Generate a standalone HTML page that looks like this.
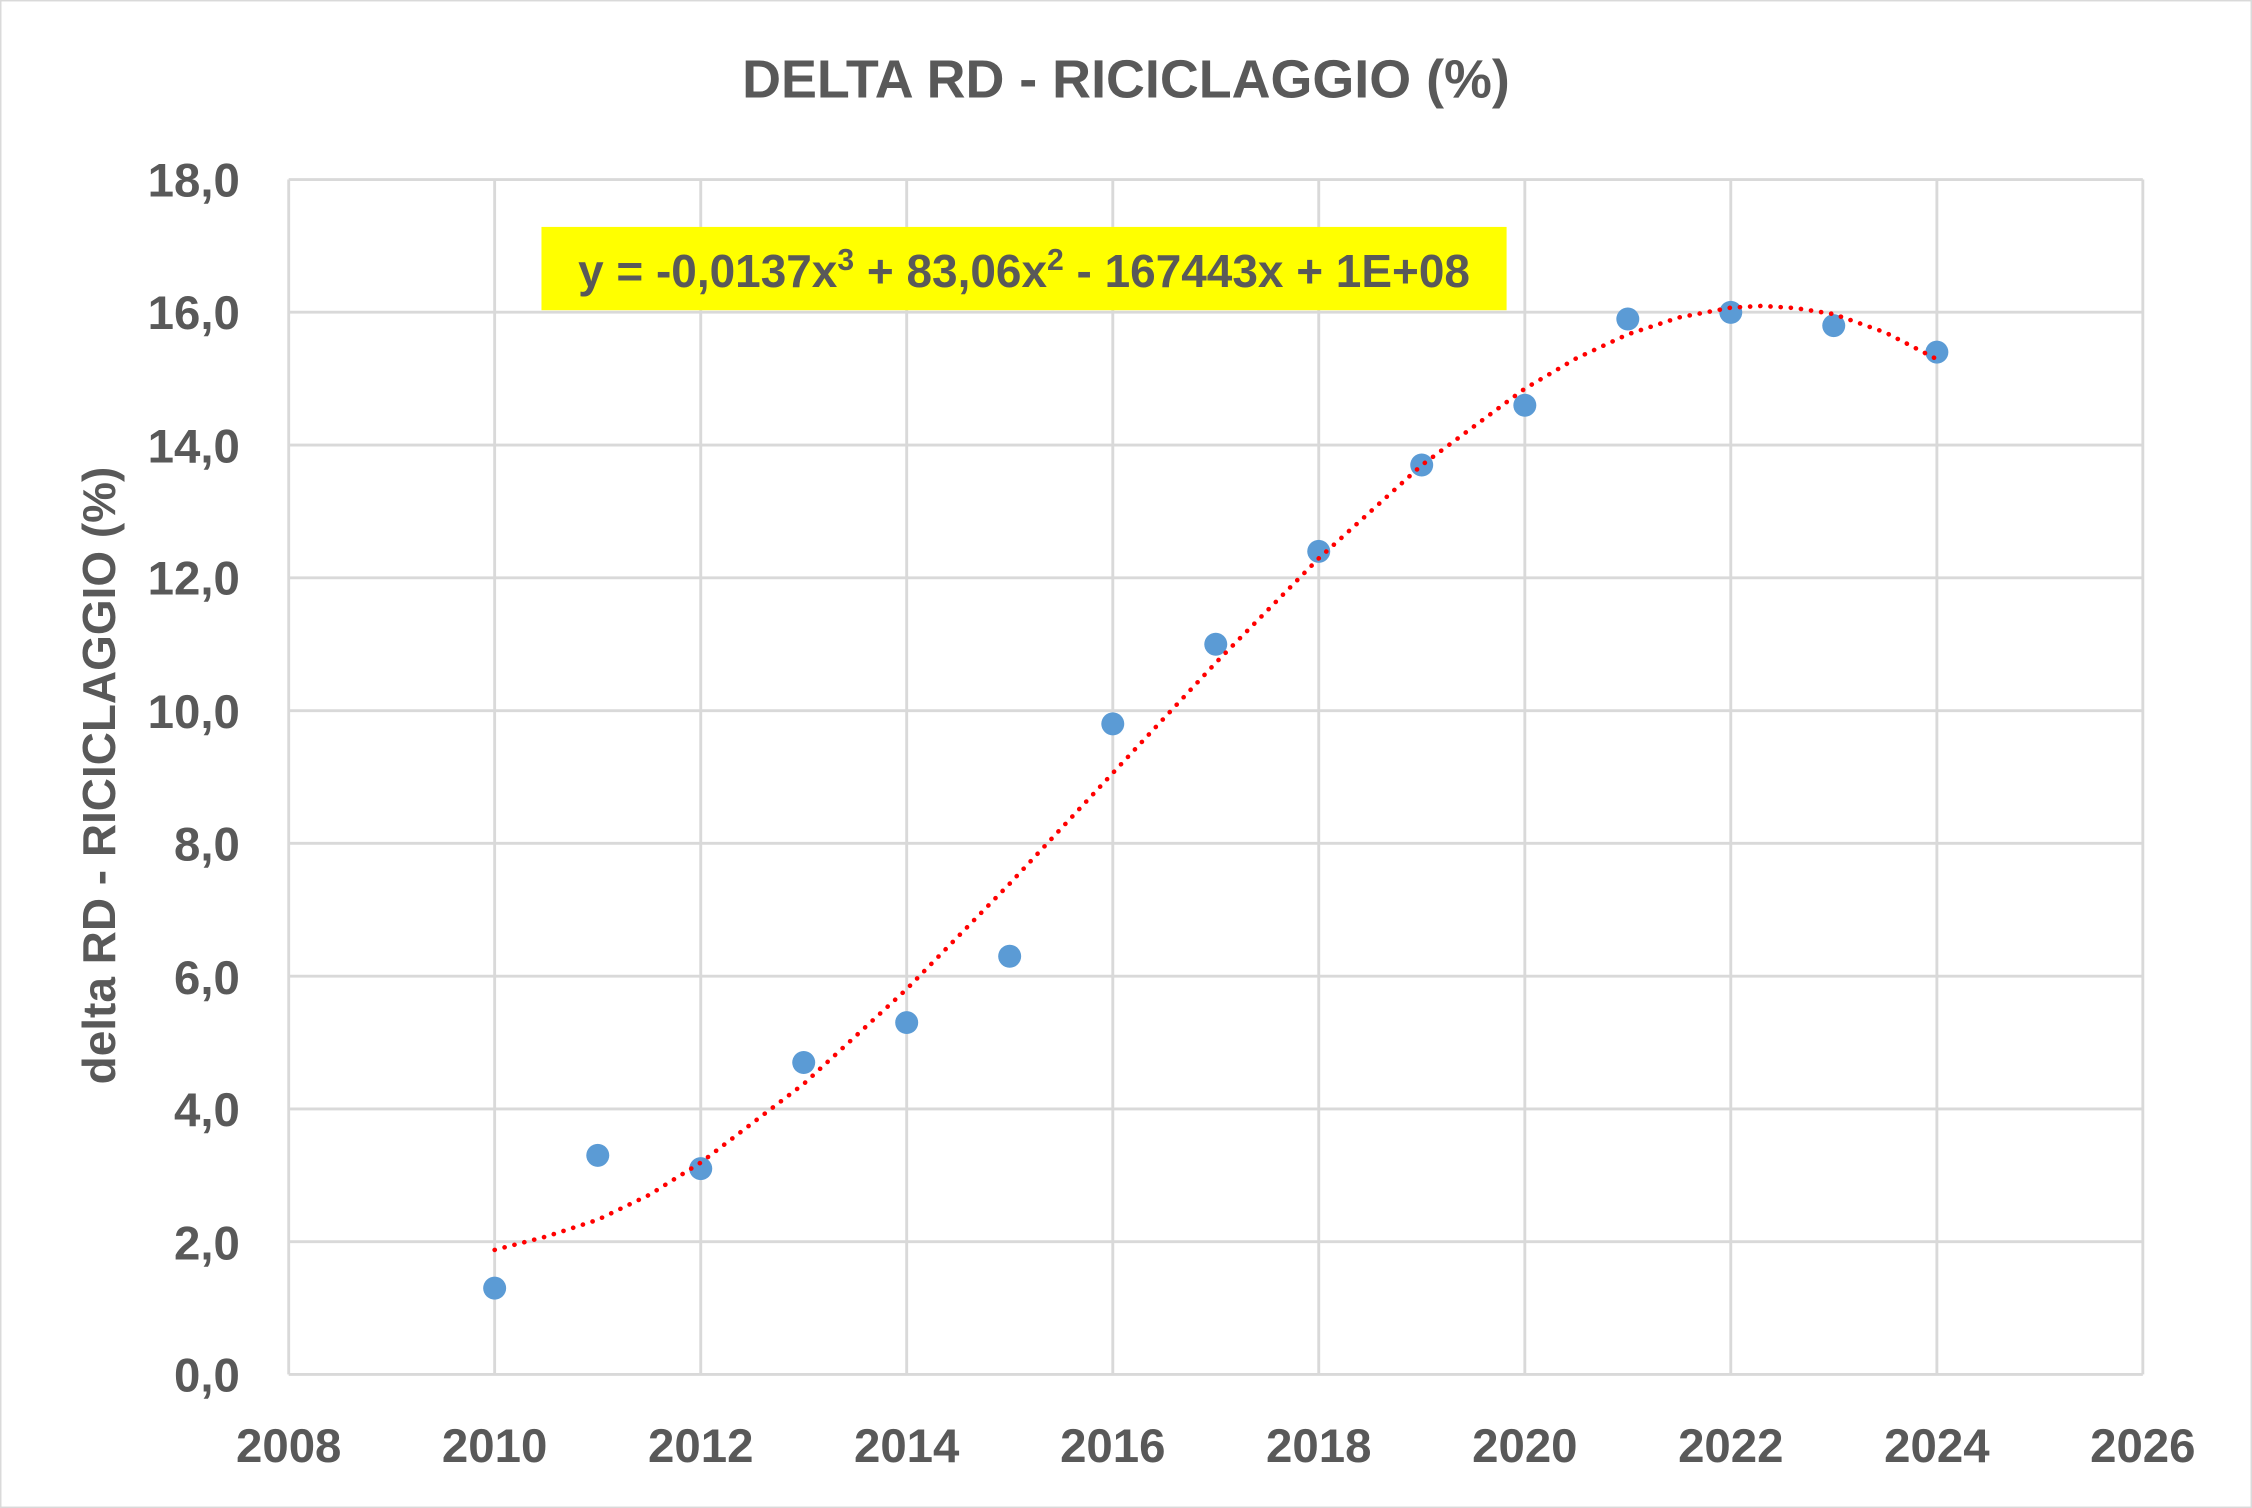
<!DOCTYPE html>
<html><head><meta charset="utf-8"><style>
html,body{margin:0;padding:0;background:#fff}
svg{display:block}
text{font-family:"Liberation Sans",sans-serif;font-weight:bold;fill:#595959}
</style></head><body>
<svg width="2252" height="1508" viewBox="0 0 1568 1050" xmlns="http://www.w3.org/2000/svg">
<rect x="0.5" y="0.5" width="1567" height="1049" fill="#fff" stroke="#d9d9d9" stroke-width="1"/>
<text x="784" y="68" font-size="37.5" text-anchor="middle">DELTA RD - RICICLAGGIO (%)</text>
<g stroke="#d9d9d9" stroke-width="2" fill="none">
<line x1="201" y1="125" x2="1492" y2="125"/><line x1="201" y1="217.4" x2="1492" y2="217.4"/>
<line x1="201" y1="309.9" x2="1492" y2="309.9"/><line x1="201" y1="402.3" x2="1492" y2="402.3"/>
<line x1="201" y1="494.8" x2="1492" y2="494.8"/><line x1="201" y1="587.2" x2="1492" y2="587.2"/>
<line x1="201" y1="679.7" x2="1492" y2="679.7"/><line x1="201" y1="772.1" x2="1492" y2="772.1"/>
<line x1="201" y1="864.6" x2="1492" y2="864.6"/><line x1="201" y1="957" x2="1492" y2="957"/>
<line x1="201" y1="125" x2="201" y2="957"/><line x1="344.4" y1="125" x2="344.4" y2="957"/>
<line x1="487.9" y1="125" x2="487.9" y2="957"/><line x1="631.3" y1="125" x2="631.3" y2="957"/>
<line x1="774.8" y1="125" x2="774.8" y2="957"/><line x1="918.2" y1="125" x2="918.2" y2="957"/>
<line x1="1061.7" y1="125" x2="1061.7" y2="957"/><line x1="1205.1" y1="125" x2="1205.1" y2="957"/>
<line x1="1348.6" y1="125" x2="1348.6" y2="957"/><line x1="1492" y1="125" x2="1492" y2="957"/>
</g>
<g font-size="33" text-anchor="end">
<text x="167" y="137">18,0</text><text x="167" y="229">16,0</text><text x="167" y="322">14,0</text>
<text x="167" y="414">12,0</text><text x="167" y="507">10,0</text><text x="167" y="599">8,0</text>
<text x="167" y="692">6,0</text><text x="167" y="784">4,0</text><text x="167" y="877">2,0</text>
<text x="167" y="969">0,0</text>
</g>
<g font-size="33" text-anchor="middle">
<text x="201" y="1018">2008</text><text x="344.4" y="1018">2010</text><text x="487.9" y="1018">2012</text>
<text x="631.3" y="1018">2014</text><text x="774.8" y="1018">2016</text><text x="918.2" y="1018">2018</text>
<text x="1061.7" y="1018">2020</text><text x="1205.1" y="1018">2022</text><text x="1348.6" y="1018">2024</text>
<text x="1492" y="1018">2026</text>
</g>
<text transform="translate(80,540) rotate(-90)" font-size="32" text-anchor="middle">delta RD - RICICLAGGIO (%)</text>
<g fill="#5b9bd5">
<circle cx="344.4" cy="896.9" r="8"/><circle cx="416.2" cy="804.5" r="8"/><circle cx="487.9" cy="813.7" r="8"/>
<circle cx="559.6" cy="739.8" r="8"/><circle cx="631.3" cy="712" r="8"/><circle cx="703" cy="665.8" r="8"/>
<circle cx="774.8" cy="504" r="8"/><circle cx="846.5" cy="448.6" r="8"/><circle cx="918.2" cy="383.9" r="8"/>
<circle cx="989.9" cy="323.8" r="8"/><circle cx="1061.7" cy="282.2" r="8"/><circle cx="1133.4" cy="222.1" r="8"/>
<circle cx="1205.1" cy="217.5" r="8"/><circle cx="1276.8" cy="226.7" r="8"/><circle cx="1348.6" cy="245.2" r="8"/>
</g>
<polyline fill="none" stroke="#ff0000" stroke-width="3.2" stroke-dasharray="0.1 7" stroke-linecap="round" stroke-linejoin="round"
points="344.4,870.3 380.3,861 416.2,849.3 452,832 487.9,809.5 559.6,754.7 631.3,688.7 703,615.3 774.8,538.3 846.5,461.5 918.2,388.8 989.9,323.9 1061.7,270.6 1097.5,249.5 1133.4,232.8 1169.2,221 1205.1,214.2 1226.6,213 1250,214.5 1276.8,218.7 1312.7,231.5 1348.6,250.1"/>
<rect x="377" y="158" width="672" height="58" fill="#ffff00"/>
<text x="713" y="200" font-size="32" text-anchor="middle">y = -0,0137x<tspan font-size="21" dy="-12">3</tspan><tspan dy="12"> + 83,06x</tspan><tspan font-size="21" dy="-12">2</tspan><tspan dy="12"> - 167443x + 1E+08</tspan></text>
</svg>
</body></html>
